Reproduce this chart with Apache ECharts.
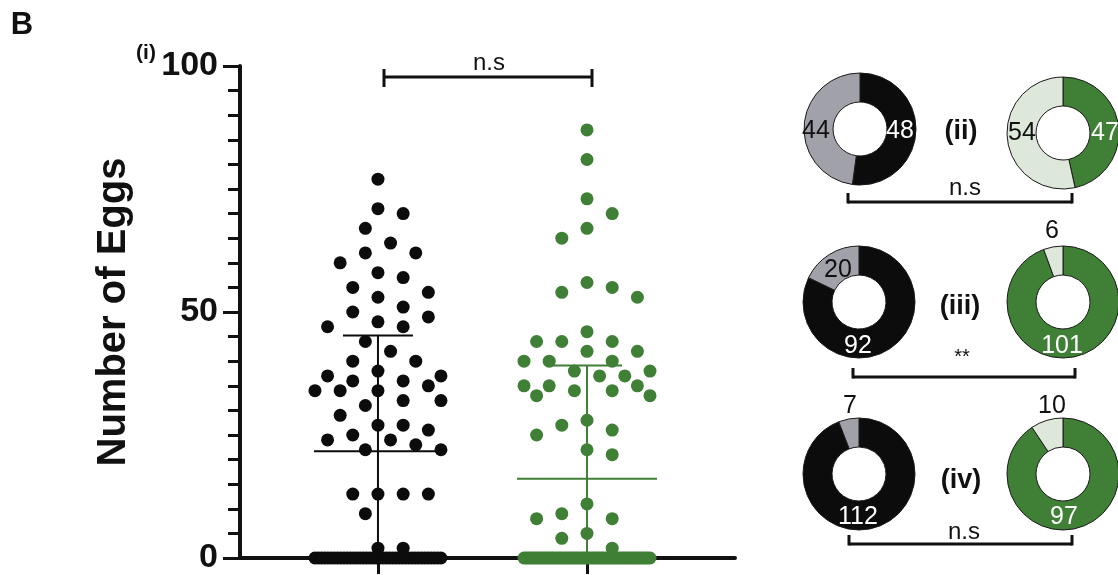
<!DOCTYPE html>
<html>
<head>
<meta charset="utf-8">
<script src="https://cdn.jsdelivr.net/npm/echarts@6/dist/echarts.min.js"></script>
<style>
  html, body { margin: 0; padding: 0; background: #fff; }
  #chart { width: 1118px; height: 575px; }
</style>
</head>
<body>
<div id="chart"></div>
<script>
// ---- data -------------------------------------------------------------
// eggs laid per female, black group
const blackEggs = [
  77, 71, 70, 67, 64, 62, 62, 60, 58, 57, 55, 54, 53, 51, 50, 49, 48, 47, 47, 44,
  42, 40, 40, 38, 37, 37, 36, 36, 35, 34, 34, 34, 32, 32, 31, 29, 27, 27, 26, 25,
  24, 24, 23, 22, 22, 13, 13, 13, 13, 9, 2, 2,
  0, 0, 0, 0, 0, 0, 0, 0, 0, 0, 0, 0, 0, 0, 0, 0, 0, 0, 0, 0,
  0, 0, 0, 0, 0, 0, 0, 0, 0, 0, 0, 0, 0, 0, 0, 0, 0, 0, 0, 0
];
// eggs laid per female, green group
const greenEggs = [
  87, 81, 73, 70, 67, 65, 56, 55, 54, 53, 46, 44, 44, 44, 42, 42, 40, 40, 40, 38,
  38, 37, 37, 35, 35, 35, 34, 34, 33, 33, 28, 27, 26, 25, 22, 21, 11, 9, 8, 8,
  5, 4, 2,
  0, 0, 0, 0, 0, 0, 0, 0, 0, 0, 0, 0, 0, 0, 0, 0, 0, 0, 0, 0,
  0, 0, 0, 0, 0, 0, 0, 0, 0, 0, 0, 0, 0, 0, 0, 0, 0, 0, 0, 0,
  0, 0, 0, 0, 0, 0, 0, 0, 0, 0, 0, 0, 0, 0, 0, 0, 0, 0
];
const yTicks = [0, 50, 100];

// donut panels (ii)-(iv): [positive, negative] counts per group
const panelTags = ['(ii)', '(iii)', '(iv)'];
const blackPositive = [48, 92, 112];
const blackNegative = [44, 20, 7];
const greenPositive = [47, 101, 97];
const greenNegative = [54, 6, 10];
const panelSignif = ['n.s', '**', 'n.s'];
const mainSignif = 'n.s';

// ---- styling ----------------------------------------------------------
const FONT = 'Liberation Sans, Arial, Helvetica, sans-serif';
const INK = '#111111';
const BLACK = '#0c0c0c';
const GREEN = '#3f7f36';
const GREY = '#a1a1a9';
const PALE_GREEN = '#dde7da';

const GRID = { left: 240, top: 66, right: 383, bottom: 17 };
const X_MIN = -0.66, X_MAX = 1.708;
const Y_MAX = 100;
const pxPerX = (1118 - GRID.left - GRID.right) / (X_MAX - X_MIN);
const pxPerY = (575 - GRID.top - GRID.bottom) / Y_MAX;

// ---- beeswarm layout: horizontal offsets (px) so dots don't crowd -----
function swarm(values, step, minDist, maxK) {
  const out = new Array(values.length).fill(0);
  const order = values.map((v, i) => i).sort((a, b) => values[b] - values[a]);
  const counts = {};
  values.forEach(v => { counts[v] = (counts[v] || 0) + 1; });
  const seen = {};
  const placed = [];
  let side = 1;
  order.forEach(i => {
    const v = values[i];
    const py = v * pxPerY;
    if (counts[v] > 2 * maxK + 1) {
      // long run of identical values: pack evenly across the column
      const k = seen[v] || 0;
      seen[v] = k + 1;
      const w = maxK * step;
      const dx = -w + 2 * w * k / (counts[v] - 1);
      out[i] = dx;
      placed.push([dx, py]);
      return;
    }
    const cands = [0];
    for (let k = 1; k <= maxK; k++) cands.push(side * k * step, -side * k * step);
    let best = 0, bestScore = -Infinity;
    for (const dx of cands) {
      let dmin = Infinity;
      for (const p of placed) {
        const d = Math.hypot(p[0] - dx, p[1] - py);
        if (d < dmin) dmin = d;
      }
      if (dmin >= minDist) { best = dx; break; }
      if (dmin > bestScore) { bestScore = dmin; best = dx; }
    }
    out[i] = best;
    placed.push([best, py]);
    if (best !== 0) side = best > 0 ? -1 : 1;
  });
  return out;
}

function dots(values, center) {
  const offs = swarm(values, 12.6, 22, 5);
  return values.map((v, i) => [center + offs[i] / pxPerX, v]);
}

function meanSd(values) {
  const n = values.length;
  const m = values.reduce((a, b) => a + b, 0) / n;
  const ss = values.reduce((a, b) => a + (b - m) * (b - m), 0);
  return [m, Math.sqrt(ss / (n - 1))];
}

const [blackMean, blackSd] = meanSd(blackEggs);
const [greenMean, greenSd] = meanSd(greenEggs);
const barHalfWidth = [64, 70];
const barColor = [BLACK, GREEN];

// ---- donuts -----------------------------------------------------------
const donutCenters = [
  [[860, 129], [1063, 133]],
  [[859, 302], [1063, 302]],
  [[859, 474], [1063, 474]]
];
function donut(center, pos, neg, posColor, negColor) {
  return {
    type: 'pie',
    center: center,
    radius: [27, 56],
    startAngle: 90,
    clockwise: true,
    silent: true,
    animation: false,
    z: 2,
    label: { show: false },
    labelLine: { show: false },
    emphasis: { disabled: true },
    itemStyle: { borderColor: '#1a1a1a', borderWidth: 1 },
    data: [
      { value: pos, itemStyle: { color: posColor } },
      { value: neg, itemStyle: { color: negColor } }
    ]
  };
}
const pieSeries = [];
panelTags.forEach((t, r) => {
  pieSeries.push(donut(donutCenters[r][0], blackPositive[r], blackNegative[r], BLACK, GREY));
  pieSeries.push(donut(donutCenters[r][1], greenPositive[r], greenNegative[r], GREEN, PALE_GREEN));
});

// label anchors for the donut counts
const countSpots = [
  { bn: [816, 131], bp: [900, 131], gn: [1022, 133], gp: [1105, 133] },
  { bn: [838, 270], bp: [858, 346], gn: [1052, 231], gp: [1062, 346] },
  { bn: [850, 406], bp: [858, 517], gn: [1052, 406], gp: [1064, 517] }
];
const tagSpots = [[961, 132], [960, 307], [961, 481]];
const signifSpots = [[965, 188], [962, 357], [964, 532]];
const bracketSpots = [
  { x1: 848, x2: 1072, y: 202, top: 193 },
  { x1: 853, x2: 1075, y: 377, top: 368 },
  { x1: 849, x2: 1072, y: 544, top: 535 }
];

function txt(text, x, y, size, color, bold) {
  return {
    type: 'text', x: x, y: y, silent: true, z: 100,
    style: {
      text: String(text), fill: color, align: 'center', verticalAlign: 'middle',
      font: (bold ? 'bold ' : '') + size + 'px ' + FONT
    }
  };
}
function seg(x1, y1, x2, y2, w) {
  return {
    type: 'line', silent: true, z: 100,
    shape: { x1: x1, y1: y1, x2: x2, y2: y2 },
    style: { stroke: INK, lineWidth: w }
  };
}
function bracket(x1, x2, y, top, w) {
  return [seg(x1, y, x2, y, w), seg(x1, top, x1, y + w / 2, w), seg(x2, top, x2, y + w / 2, w)];
}

const graphics = [
  txt('B', 22, 25, 31, INK, true),
  txt('(i)', 146, 53, 21, INK, true),
  txt(mainSignif, 489, 63, 24, INK, false),
  seg(384, 77, 592, 77, 3), seg(384, 69, 384, 87, 3), seg(592, 69, 592, 87, 3)
];
panelTags.forEach((t, r) => {
  const s = countSpots[r];
  graphics.push(txt(blackNegative[r], s.bn[0], s.bn[1], 25, INK, false));
  graphics.push(txt(blackPositive[r], s.bp[0], s.bp[1], 25, '#ffffff', false));
  graphics.push(txt(greenNegative[r], s.gn[0], s.gn[1], 25, INK, false));
  graphics.push(txt(greenPositive[r], s.gp[0], s.gp[1], 25, '#ffffff', false));
  graphics.push(txt(t, tagSpots[r][0], tagSpots[r][1], 27, INK, true));
  graphics.push(txt(panelSignif[r], signifSpots[r][0], signifSpots[r][1], panelSignif[r] === '**' ? 20 : 24, INK, false));
  const b = bracketSpots[r];
  graphics.push(...bracket(b.x1, b.x2, b.y, b.top, 3));
});

// ---- chart ------------------------------------------------------------
const chart = echarts.init(document.getElementById('chart'), null, { renderer: 'canvas' });
chart.setOption({
  animation: false,
  backgroundColor: '#ffffff',
  grid: GRID,
  xAxis: {
    type: 'value',
    min: X_MIN,
    max: X_MAX,
    axisLine: { show: true, onZero: false, lineStyle: { color: INK, width: 4 } },
    axisTick: { show: true, customValues: [0, 1], length: 16, lineStyle: { color: INK, width: 3 } },
    axisLabel: { show: false },
    splitLine: { show: false }
  },
  yAxis: {
    type: 'value',
    min: yTicks[0],
    max: yTicks[yTicks.length - 1],
    interval: yTicks[1] - yTicks[0],
    name: 'Number of Eggs',
    nameLocation: 'middle',
    nameRotate: 90,
    nameGap: 106,
    nameTextStyle: { fontFamily: FONT, fontSize: 40, fontWeight: 'bold', color: INK },
    axisLine: { show: true, onZero: false, lineStyle: { color: INK, width: 4 } },
    axisTick: { show: true, length: 17, lineStyle: { color: INK, width: 3 } },
    minorTick: { show: true, splitNumber: 10, length: 12, lineStyle: { color: INK, width: 3 } },
    axisLabel: { fontFamily: FONT, fontSize: 34, fontWeight: 'bold', color: INK, margin: 22 },
    splitLine: { show: false }
  },
  series: [
    {
      type: 'scatter',
      symbol: 'circle',
      symbolSize: 13,
      silent: true,
      itemStyle: { color: BLACK, opacity: 1 },
      data: dots(blackEggs, 0),
      z: 3
    },
    {
      type: 'scatter',
      symbol: 'circle',
      symbolSize: 13,
      silent: true,
      itemStyle: { color: GREEN, opacity: 1 },
      data: dots(greenEggs, 1),
      z: 3
    },
    {
      type: 'custom',
      silent: true,
      z: 4,
      data: [[0, blackMean, blackSd], [1, greenMean, greenSd]],
      renderItem: function (params, api) {
        const x = api.value(0), m = api.value(1), sd = api.value(2);
        const c = api.coord([x, m]);
        const hi = api.coord([x, m + sd]);
        const lo = api.coord([x, Math.max(0, m - sd)]);
        const hw = barHalfWidth[params.dataIndex];
        const col = barColor[params.dataIndex];
        const st = { stroke: col, lineWidth: 2 };
        return {
          type: 'group',
          children: [
            { type: 'line', shape: { x1: c[0] - hw, y1: c[1], x2: c[0] + hw, y2: c[1] }, style: st },
            { type: 'line', shape: { x1: hi[0] - 35, y1: hi[1], x2: hi[0] + 35, y2: hi[1] }, style: st },
            { type: 'line', shape: { x1: hi[0], y1: hi[1], x2: lo[0], y2: lo[1] }, style: st }
          ]
        };
      }
    },
    ...pieSeries
  ],
  graphic: graphics
});
</script>
</body>
</html>
